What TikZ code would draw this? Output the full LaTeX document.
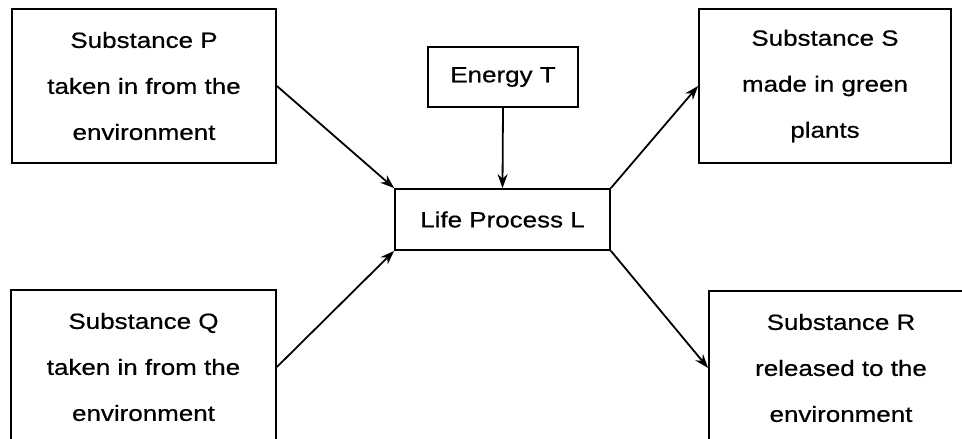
\documentclass[tikz,border=0pt]{standalone}
\usepackage{fontspec}
\setmainfont{Liberation Sans}[FakeStretch=1.18,FakeBold=0.6]
\usetikzlibrary{arrows.meta}
\begin{document}
\begin{tikzpicture}[x=1pt,y=-1pt,
  box/.style={draw,line width=1.8pt,inner sep=0pt,align=center,font=\fontsize{22}{46}\selectfont},
  flow/.style={line width=1.8pt,-{Stealth[length=14pt,width=10pt]}}]
\useasboundingbox(0,0)rectangle(962,439);
\foreach \n/\x/\y/\w/\t in {P/144/86/264/{Substance P\\taken in from the\\environment},
  Q/143.5/367/265/{Substance Q\\taken in from the\\environment},
  S/825/86/252/{Substance S\\made in green\\plants},
  R/841/368/264/{Substance R\\released to the\\environment}}
  {\node[box,minimum width=\w,minimum height=154](\n)at(\x,\y){\t};}
\node[box,minimum width=150,minimum height=60](E)at(503,77){Energy T};
\node[box,minimum width=215,minimum height=61](L)at(502.5,219.5){Life Process L};
\draw[flow](P.east)--(L.north west);
\draw[flow](Q.east)--(L.south west);
\draw[flow](E.south)--(L.north);
\draw[flow](L.north east)--(S.west);
\draw[flow](L.south east)--(R.west);
\end{tikzpicture}
\end{document}
